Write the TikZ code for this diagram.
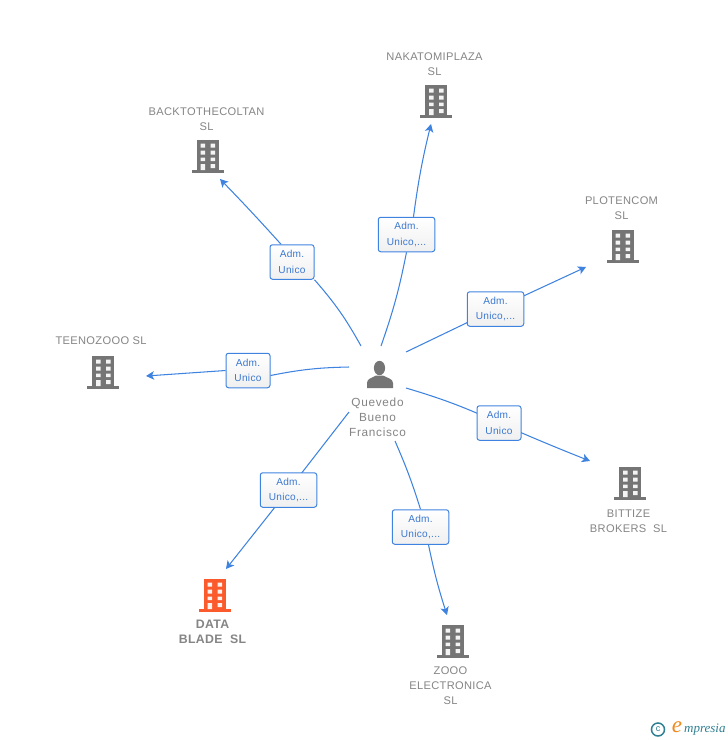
\documentclass[tikz,border=0pt]{standalone}
\usepackage{fontspec}
\setmainfont{Liberation Sans}
\newfontfamily\spaced[LetterSpace=3]{Liberation Sans}
\newfontfamily\wider[LetterSpace=6]{Liberation Sans}
\newfontfamily\logofont{Liberation Serif}
\usetikzlibrary{arrows.meta,shapes.geometric}
\definecolor{linkblue}{HTML}{3F83E0}
\definecolor{labelblue}{HTML}{3B78D0}
\definecolor{labelgrey}{HTML}{858585}
\definecolor{iconGrey}{HTML}{757575}
\definecolor{iconRed}{HTML}{FA5A2C}
\definecolor{logoTeal}{HTML}{2F7F92}
\definecolor{logoOrange}{HTML}{F08A1D}
\pgfdeclarelayer{edges}
\pgfdeclarelayer{canvas}
\pgfsetlayers{canvas,edges,main}
\tikzset{
  x=1pt,y=-1pt,
  link/.style={draw=linkblue,line width=1.05pt},
  arrowlink/.style={link,-{Stealth[length=8pt,width=8.5pt,inset=2pt]}},
  rolebox/.style={draw=linkblue,line width=1pt,rounded corners=2.5pt,top color=white,bottom color=black!6,
    text=labelblue,align=center,inner sep=0pt,font=\fontsize{10.1}{16}\spaced},
  narrowbox/.style={rolebox,minimum width=44pt,minimum height=34.5pt},
  widebox/.style={rolebox,minimum width=56.5pt,minimum height=34.5pt},
  complabel/.style={text=labelgrey,align=center,inner sep=0pt,font=\fontsize{11.1}{15}\spaced},
  datalabel/.style={text=labelgrey,align=center,inner sep=0pt,font=\fontsize{12.3}{15}\spaced\bfseries},
  perslabel/.style={text=labelgrey,align=center,inner sep=0pt,font=\fontsize{11.8}{15}\wider},
  pics/building/.style={code={
    \fill[#1] (-11,-16) rectangle (11,14);
    \fill[#1] (-16,14) rectangle (16,17);
    \fill[white!92!#1] (-7,-12.5) rectangle (-2.5,-8.5) (3,-12.5) rectangle (7.5,-8.5)
                 (-7,-5.5) rectangle (-2.5,-1.5) (3,-5.5) rectangle (7.5,-1.5)
                 (-7,1.5) rectangle (-2.5,5) (3,1.5) rectangle (7.5,5)
                 (-7,8) rectangle (-2.5,14) (3,8) rectangle (7.5,12);
  }},
}
\begin{document}
\begin{tikzpicture}
\begin{pgfonlayer}{canvas}
\fill[white] (0,0) rectangle (728,740);
\end{pgfonlayer}
\useasboundingbox (0,0) rectangle (728,740);

% person
\node[inner sep=0pt,minimum width=30pt,minimum height=30pt] (person) at (380,374) {};
\fill[iconGrey] (379.5,368) ellipse [x radius=5.6,y radius=7.2];
\fill[iconGrey] (367,388) -- (367,383) .. controls (367,378.5) and (372,378) .. (376,375.5)
  -- (383,375.5) .. controls (387,378) and (393,378.5) .. (393,383) -- (393,388) -- cycle;
\node[perslabel] (perstext) at (377.5,417) {Quevedo\\Bueno\\Francisco};

% companies
\pic at (436,101) {building=iconGrey};
\pic at (207.5,156) {building=iconGrey};
\pic at (622.5,246) {building=iconGrey};
\pic at (103,372) {building=iconGrey};
\pic at (630,483) {building=iconGrey};
\pic at (214.5,595) {building=iconRed};
\pic at (452.5,641) {building=iconGrey};

\node[complabel] (nakatomi) at (434.5,64) {NAKATOMIPLAZA\\SL};
\node[complabel] (backto) at (206.5,119) {BACKTOTHECOLTAN\\SL};
\node[complabel] (ploten) at (621.5,208) {PLOTENCOM\\SL};
\node[complabel] (teeno) at (101,341) {TEENOZOOO SL};
\node[complabel] (bittize) at (628.5,521) {BITTIZE\\BROKERS\ \ SL};
\node[datalabel] (data) at (212.5,632) {DATA\\BLADE\ \ SL};
\node[complabel] (zooo) at (450.5,685.5) {ZOOO\\ELECTRONICA\\SL};

% role boxes
\node[widebox] (bnak) at (406.5,234.5) {\raisebox{-1pt}{Adm.}\\\raisebox{-0.5pt}{Unico,...}};
\node[narrowbox] (bback) at (292,262) {\raisebox{-1pt}{Adm.}\\\raisebox{-0.5pt}{Unico}};
\node[widebox] (bplot) at (495.5,309) {\raisebox{-1pt}{Adm.}\\\raisebox{-0.5pt}{Unico,...}};
\node[narrowbox] (bbit) at (499,423) {\raisebox{-1pt}{Adm.}\\\raisebox{-0.5pt}{Unico}};
\node[widebox] (bzoo) at (420.5,527) {\raisebox{-1pt}{Adm.}\\\raisebox{-0.5pt}{Unico,...}};
\node[widebox] (bdata) at (288.5,490) {\raisebox{-1pt}{Adm.}\\\raisebox{-0.5pt}{Unico,...}};
\node[narrowbox] (bteen) at (248,370.5) {\raisebox{-1pt}{Adm.}\\\raisebox{-0.5pt}{Unico}};

% connector ends
\coordinate (s1) at (381,346); \coordinate (e1) at (431,124);
\coordinate (s2) at (361,346); \coordinate (e2) at (220,179);
\coordinate (s3) at (406,352); \coordinate (e3) at (586,267);
\coordinate (s4) at (406,388); \coordinate (e4) at (590,461);
\coordinate (s5) at (395,441); \coordinate (e5) at (447,615);
\coordinate (s6) at (349,412); \coordinate (e6) at (226,569);
\coordinate (s7) at (349,367); \coordinate (e7) at (146,376);

\begin{pgfonlayer}{edges}
\draw[link] (s1) to[bend right=4] (bnak.south);
\draw[arrowlink] ([xshift=7pt]bnak.north) to[bend left=3] (e1);
\draw[link] (s2) to[bend right=6] (bback.south east);
\draw[arrowlink] ([xshift=-11pt]bback.north) to[bend right=1] (e2);
\draw[link] (s3) -- (bplot.center);
\draw[arrowlink] (bplot.center) -- (e3);
\draw[link] (s4) to[bend left=4] (bbit.center);
\draw[arrowlink] (bbit.center) to[bend right=1] (e4);
\draw[link] (s5) to[bend left=3] (bzoo.north);
\draw[arrowlink] ([xshift=8pt]bzoo.south) to[bend right=3] (e5);
\draw[link] (s6) -- (bdata.center);
\draw[arrowlink] (bdata.center) -- (e6);
\draw[link] (s7) to[bend right=5] ([yshift=-5pt]bteen.east);
\draw[arrowlink] (bteen.west) -- (e7);
\end{pgfonlayer}

% logo
\node[circle,draw=logoTeal,line width=1.5pt,minimum size=13pt,inner sep=0pt,text=logoTeal,font=\fontsize{9}{9}\selectfont] (copyr) at (658,729.5) {c};
\node[inner sep=0pt,text=logoOrange,font=\fontsize{23}{23}\logofont\itshape] (logoe) at (677,727) {e};
\node[inner sep=0pt,anchor=west,text=logoTeal,font=\fontsize{13}{13}\logofont\itshape] (logot) at (684,730) {mpresia};
\end{tikzpicture}
\end{document}
